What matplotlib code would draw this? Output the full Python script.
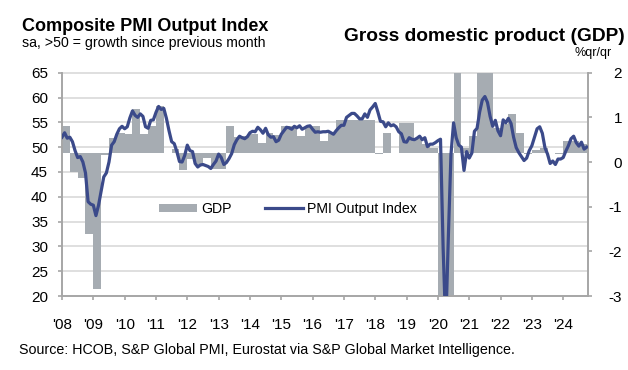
import matplotlib
matplotlib.use("Agg")
import matplotlib.pyplot as plt
import matplotlib.transforms as mtransforms
from matplotlib.patches import Patch
from matplotlib.lines import Line2D
import numpy as np

plt.rcParams['font.family'] = ['Liberation Sans', 'DejaVu Sans']
plt.rcParams['axes.unicode_minus'] = False

# Composite PMI output index, monthly Jan 2008 - Oct 2024
pmi_2008 = [52.0, 52.9, 51.8, 52.0, 51.1, 49.3, 47.9, 48.1, 47.0, 44.8, 39.0, 38.5]
pmi_2009 = [38.3, 36.2, 38.3, 41.2, 44.0, 44.8, 47.0, 50.4, 51.1, 52.6, 53.7, 54.2]
pmi_2010 = [53.7, 54.1, 55.9, 57.3, 56.4, 56.0, 56.7, 56.2, 54.1, 53.8, 55.4, 55.5]
pmi_2011 = [57.0, 58.2, 57.6, 57.8, 55.8, 53.3, 51.1, 50.7, 49.1, 47.1, 47.0, 48.3]
pmi_2012 = [50.4, 49.3, 49.1, 46.7, 46.0, 46.4, 46.5, 46.3, 46.1, 45.7, 46.5, 47.2]
pmi_2013 = [48.6, 47.9, 46.5, 46.9, 47.7, 48.7, 50.5, 51.5, 52.2, 51.9, 51.7, 52.1]
pmi_2014 = [52.9, 53.2, 53.1, 54.0, 53.5, 52.8, 53.8, 52.5, 52.0, 52.1, 51.1, 51.4]
pmi_2015 = [52.6, 53.3, 54.0, 53.9, 53.6, 54.2, 53.9, 54.3, 53.6, 53.9, 54.2, 54.3]
pmi_2016 = [53.6, 53.0, 53.1, 53.0, 53.1, 53.1, 53.2, 52.9, 52.6, 53.3, 53.9, 54.4]
pmi_2017 = [54.4, 56.0, 56.4, 56.8, 56.8, 56.3, 55.7, 55.7, 56.7, 56.0, 57.5, 58.1]
pmi_2018 = [58.8, 57.1, 55.2, 55.1, 54.1, 54.9, 54.3, 54.5, 54.1, 53.1, 52.7, 51.1]
pmi_2019 = [51.0, 51.9, 51.6, 51.5, 51.8, 52.2, 51.5, 51.9, 50.1, 50.6, 50.6, 50.9]
pmi_2020 = [51.3, 51.6, 29.7, 13.6, 31.9, 48.5, 54.9, 51.9, 50.4, 50.0, 45.3, 49.1]
pmi_2021 = [47.8, 48.8, 53.2, 53.8, 57.1, 59.5, 60.2, 59.0, 56.2, 54.2, 55.4, 53.3]
pmi_2022 = [52.3, 55.5, 54.9, 55.8, 54.8, 52.0, 49.9, 48.9, 48.1, 47.3, 47.8, 49.3]
pmi_2023 = [50.3, 52.0, 53.7, 54.1, 52.8, 49.9, 48.6, 46.7, 47.2, 46.5, 47.6, 47.6]
pmi_2024 = [47.9, 49.2, 50.3, 51.7, 52.2, 50.9, 50.2, 51.0, 49.6, 50.0]

pmi = (pmi_2008 + pmi_2009 + pmi_2010 + pmi_2011 + pmi_2012 + pmi_2013
       + pmi_2014 + pmi_2015 + pmi_2016 + pmi_2017 + pmi_2018 + pmi_2019
       + pmi_2020 + pmi_2021 + pmi_2022 + pmi_2023 + pmi_2024)

# GDP %q/q, quarterly 2008Q1 - 2024Q3
gdp = [0.6, -0.43, -0.57, -1.82,
       -3.06, -0.05, 0.32, 0.45,
       0.41, 0.97, 0.41, 0.6,
       1.04, 0.0, 0.08, -0.39,
       -0.15, -0.3, -0.11, -0.37,
       -0.37, 0.6, 0.34, 0.37,
       0.41, 0.21, 0.45, 0.4,
       0.6, 0.6, 0.37, 0.6,
       0.6, 0.26, 0.45, 0.72,
       0.72, 0.72, 0.72, 0.72,
       -0.03, 0.45, 0.0, 0.66,
       0.66, 0.3, 0.2, 0.1,
       -3.5, -11.5, 12.5, 0.11,
       0.37, 2.2, 2.1, 0.55,
       0.65, 0.87, 0.43, -0.03,
       0.05, 0.11, 0.0, -0.02,
       0.26, 0.26, 0.19]

year_labels = ["'%02d" % y for y in range(8, 25)]

months = np.arange(len(pmi))
quarters = np.arange(len(gdp)) * 3

bar_color = '#A6ACB2'
line_color = '#3B4A8A'
axis_color = '#A6A6A6'
grid_color = '#D9D9D9'

fig = plt.figure(figsize=(6.28, 3.70), dpi=100)
ax_gdp = fig.add_axes([62 / 628, 1 - 296 / 370, (588 - 62) / 628, (296 - 72.7) / 370])
ax_pmi = ax_gdp.twinx()

# GDP bars on the bottom layer, tick labels on the right
ax_gdp.bar(quarters, gdp, width=3, bottom=0.21, align='edge',
           color=bar_color, linewidth=0, zorder=2)
ax_gdp.set_ylim(-3, 2)
ax_gdp.set_yticks(range(-3, 3))
ax_gdp.yaxis.tick_right()

# PMI line on top, tick labels on the left
ax_pmi.plot(months, pmi, color=line_color, lw=2.3, solid_joinstyle='round', zorder=3)
ax_pmi.set_ylim(20, 65)
ax_pmi.set_yticks(range(20, 66, 5))
ax_pmi.yaxis.tick_left()

ax_gdp.set_xlim(0, 201.5)
ax_gdp.set_xticks(range(0, 193, 12))
ax_gdp.set_xticklabels(year_labels)

# horizontal grid at PMI levels, drawn under the bars
blend = mtransforms.blended_transform_factory(ax_gdp.transAxes, ax_pmi.transData)
for t in range(25, 66, 5):
    ax_gdp.plot([0, 1], [t, t], transform=blend, color=grid_color, lw=1.2, zorder=1,
                clip_on=False)

for ax in (ax_gdp, ax_pmi):
    ax.spines['top'].set_visible(False)
    for s in ('left', 'right', 'bottom'):
        ax.spines[s].set_color(axis_color)
        ax.spines[s].set_linewidth(1.2)
    ax.tick_params(colors=axis_color, labelcolor='black', labelsize=11,
                   length=3, width=1.2, direction='out')

ax_gdp.tick_params(axis='x', pad=13)
ax_pmi.tick_params(axis='y', pad=7)
ax_gdp.tick_params(axis='y', pad=21.5)
for lab in ax_gdp.get_yticklabels():
    lab.set_ha('right')

handles = [Patch(facecolor=bar_color, edgecolor='none'),
           Line2D([], [], color=line_color, lw=2.3)]
ax_pmi.legend(handles, ['GDP', 'PMI Output Index'], loc='center', ncol=2,
              bbox_to_anchor=(0.43, 0.39), frameon=False, fontsize=10.2,
              handlelength=2.7, handleheight=0.45, columnspacing=2.3,
              handletextpad=0.3)

fig.text(22 / 628, 1 - 31 / 370, 'Composite PMI Output Index', fontsize=13,
         fontweight='bold', va='baseline', ha='left')
fig.text(22 / 628, 1 - 47 / 370, 'sa, >50 = growth since previous month',
         fontsize=10.2, va='baseline', ha='left')
fig.text(625 / 628, 1 - 41 / 370, 'Gross domestic product (GDP)', fontsize=13.8,
         fontweight='bold', va='baseline', ha='right')
fig.text(612 / 628, 1 - 56 / 370, '%qr/qr', fontsize=9, va='baseline', ha='right')
fig.text(19 / 628, 1 - 354 / 370,
         'Source: HCOB, S&P Global PMI, Eurostat via S&P Global Market Intelligence.',
         fontsize=10.3, va='baseline', ha='left')

fig.savefig('out.png', dpi=100)
